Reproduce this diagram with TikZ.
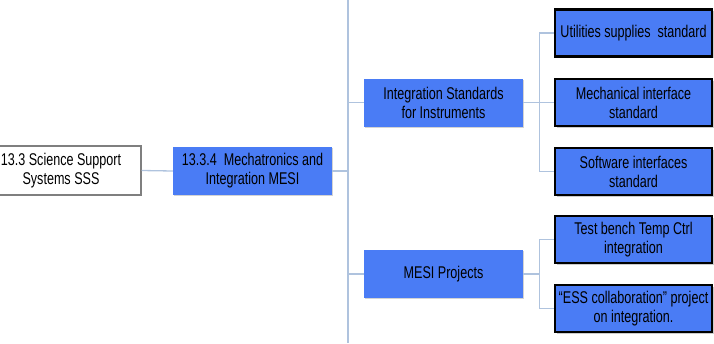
\documentclass[tikz,border=0pt]{standalone}
\usepackage{fontspec}
\setmainfont[FakeStretch=0.74]{Liberation Sans}
\usetikzlibrary{shadows}
\definecolor{boxblue}{HTML}{4A7CF5}
\definecolor{linkblue}{HTML}{AFC3DE}
\definecolor{frame}{HTML}{7F7F7F}
\tikzset{
  every node/.style={font=\fontsize{17}{19}\selectfont, align=center, inner sep=0pt},
  rootbox/.style={draw=frame, line width=1.2pt, fill=white, minimum width=160pt, minimum height=49pt,
    drop shadow={shadow xshift=1.2pt, shadow yshift=-1.2pt, opacity=0.35}},
  midbox/.style={fill=boxblue, minimum width=159pt, minimum height=48pt,
    drop shadow={shadow xshift=1.2pt, shadow yshift=-1.2pt, opacity=0.35}},
  leafbox/.style={draw=black, line width=2.4pt, fill=boxblue, minimum width=157pt, minimum height=47pt,
    drop shadow={shadow xshift=1.5pt, shadow yshift=-1.5pt, opacity=0.4}},
  link/.style={draw=linkblue, line width=1.3pt}
}
\begin{document}
\begin{tikzpicture}[x=1pt, y=-1pt]
  \useasboundingbox (0,0) rectangle (714,343);

  % trunk line running the full height
  \coordinate (trunktop) at (348,0);
  \coordinate (trunkbot) at (348,343);
  \draw[link] (trunktop) -- (trunkbot);

  % level nodes
  \node[rootbox] (sss)  at (61,170.5)  {13.3 Science Support\\Systems SSS};
  \node[midbox]  (mesi) at (252.5,171) {13.3.4\ \ Mechatronics and\\Integration MESI};
  \node[midbox]  (integ) at (443.5,102.5) {Integration Standards\\for Instruments};
  \node[midbox]  (proj)  at (443.5,274)   {MESI Projects};

  % leaf nodes
  \node[leafbox] (util) at (633.5,33)    {Utilities supplies\ \ standard};
  \node[leafbox] (mech) at (633.5,102.5) {Mechanical interface\\standard};
  \node[leafbox] (soft) at (633.5,171.5) {Software interfaces\\standard};
  \node[leafbox] (test) at (633.5,239.5) {Test bench Temp Ctrl\\integration};
  \node[leafbox] (ess)  at (633.5,308.5) {“ESS collaboration” project\\on integration.};

  % connectors
  \draw[link] (sss.east) -- (mesi.west);
  \draw[link] (mesi.east) -- (mesi.east -| trunktop);
  \draw[link] (integ.west -| trunktop) -- (integ.west);
  \draw[link] (proj.west -| trunktop) -- (proj.west);

  \coordinate (ja) at ([xshift=16pt]integ.east);
  \draw[link] (integ.east) -- (ja);
  \draw[link] (ja |- util.west) -- (ja |- soft.west);
  \draw[link] (ja |- util.west) -- (util.west);
  \draw[link] (ja) -- (mech.west);
  \draw[link] (ja |- soft.west) -- (soft.west);

  \coordinate (jb) at ([xshift=16pt]proj.east);
  \draw[link] (proj.east) -- (jb);
  \draw[link] (jb |- test.west) -- (jb |- ess.west);
  \draw[link] (jb |- test.west) -- (test.west);
  \draw[link] (jb |- ess.west) -- (ess.west);
\end{tikzpicture}
\end{document}
